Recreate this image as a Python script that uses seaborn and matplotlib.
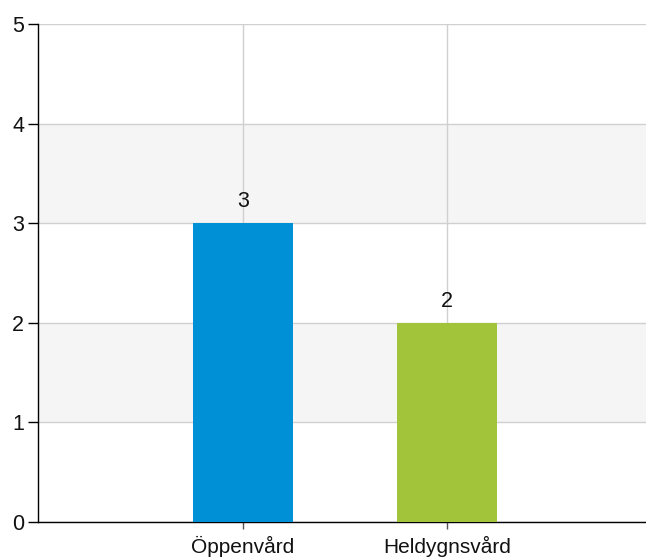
import pandas as pd
import matplotlib.pyplot as plt
import seaborn as sns

# Chart data
categories = ["Öppenvård", "Heldygnsvård"]
values = [3, 2]
bar_colors = ["#0090D6", "#A1C43B"]
y_ticks = [0, 1, 2, 3, 4, 5]

df = pd.DataFrame({"category": categories, "value": values})

sns.set_style("white")
plt.rcParams["font.family"] = ["Liberation Sans", "DejaVu Sans"]

fig = plt.figure(figsize=(6.46, 5.58), dpi=100)
ax = fig.add_axes([38 / 646, 1 - 522 / 558, 1 - 38 / 646, (522 - 24) / 558])

# Alternating background bands
for lo in y_ticks[:-1]:
    if lo % 2 == 1:
        ax.axhspan(lo, lo + 1, color="#f5f5f5", zorder=0, lw=0)

sns.barplot(data=df, x="category", y="value", hue="category",
            palette=bar_colors, width=0.49, legend=False, ax=ax,
            saturation=1, zorder=3, linewidth=0)

ax.set_xlim(-1.005, 1.975)
ax.set_ylim(0, 5)
ax.set_yticks(y_ticks)

ax.grid(True, axis="both", color="#d0d0d0", lw=1, zorder=1)
ax.set_axisbelow(True)

for i, v in enumerate(values):
    ax.text(i, v + 0.11, str(v), ha="center", va="bottom", fontsize=15.5, color="#111111")

ax.set_xlabel("")
ax.set_ylabel("")
ax.tick_params(axis="y", labelsize=15.5, length=7, width=1, color="black",
               left=True, labelcolor="#111111", pad=3)
ax.tick_params(axis="x", labelsize=15, length=5, width=1, color="#555555",
               bottom=True, labelcolor="#111111", pad=5)

for side in ["top", "right"]:
    ax.spines[side].set_visible(False)
for side in ["left", "bottom"]:
    ax.spines[side].set_color("black")
    ax.spines[side].set_linewidth(1)

fig.savefig("out.png", dpi=100)
